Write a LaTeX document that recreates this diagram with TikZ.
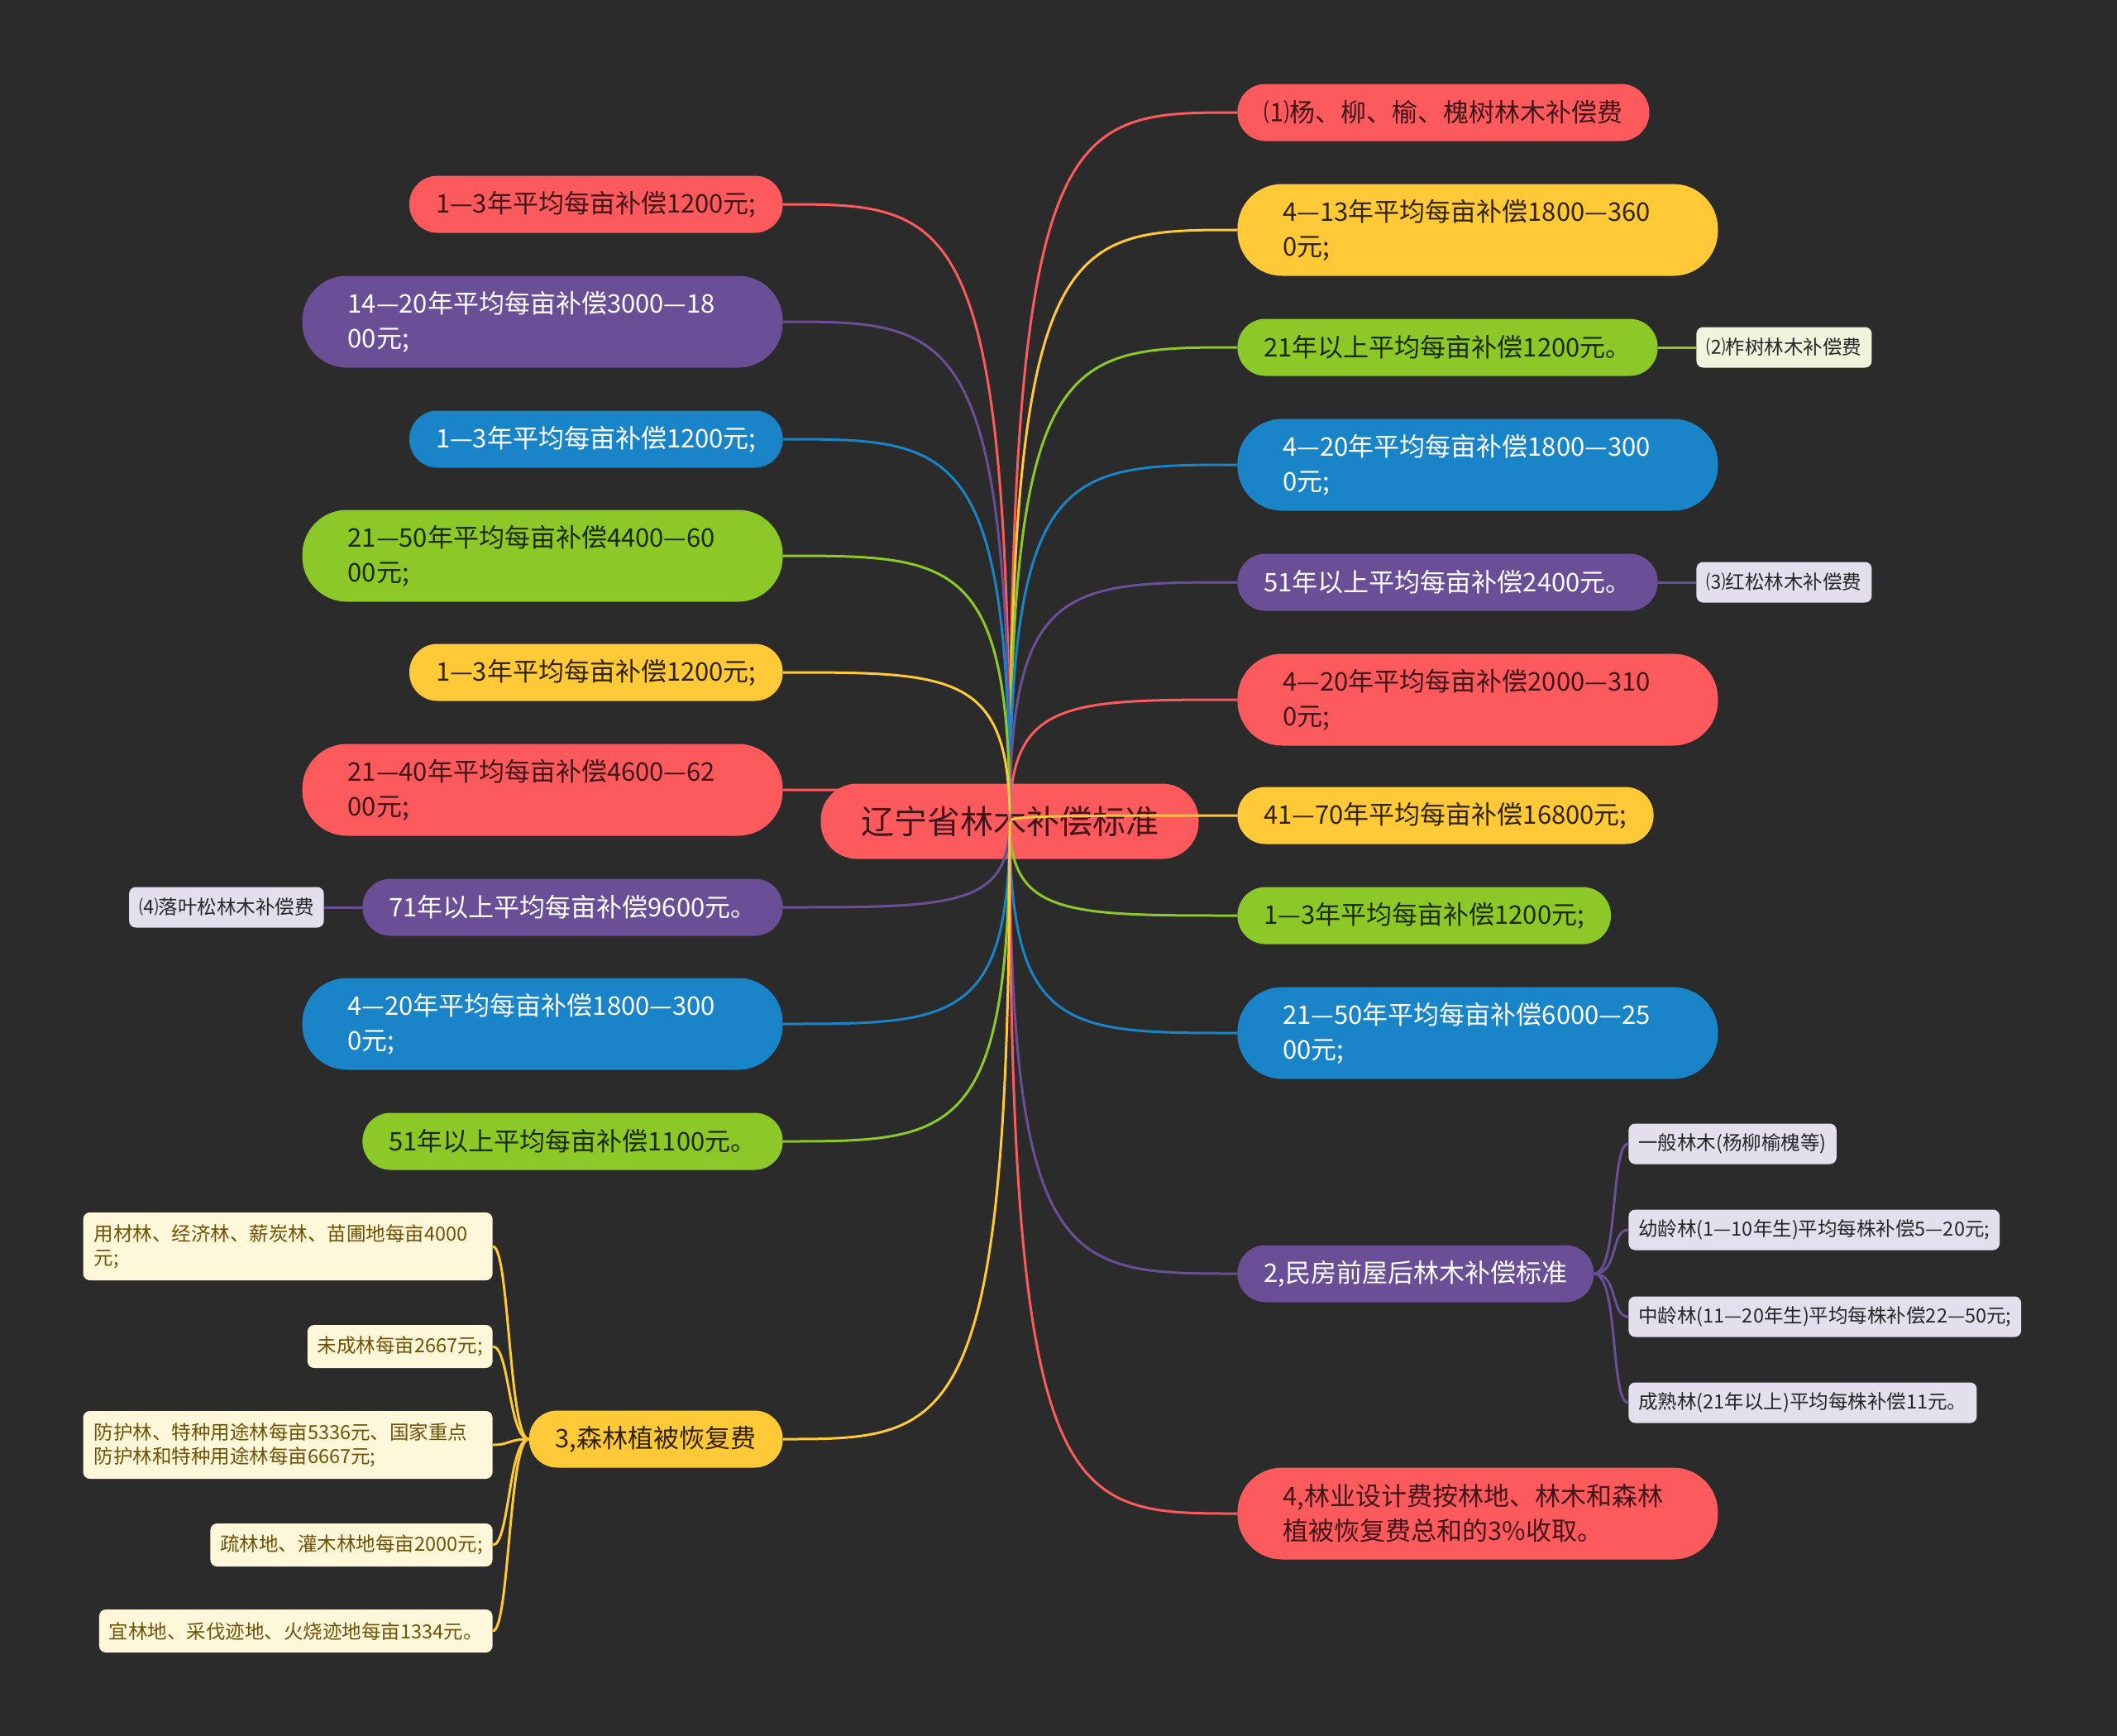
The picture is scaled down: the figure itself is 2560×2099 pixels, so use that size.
\documentclass[tikz,border=0pt]{standalone}
\usepackage{fontspec}
\setmainfont{Noto Sans CJK SC}
\usepackage{tikz}
\usetikzlibrary{calc,positioning}

\definecolor{bgc}{RGB}{43,43,43}
\definecolor{cred}{RGB}{253,90,94}
\definecolor{cyel}{RGB}{255,201,56}
\definecolor{cgrn}{RGB}{140,201,40}
\definecolor{cblu}{RGB}{26,132,200}
\definecolor{cpur}{RGB}{106,79,150}
\definecolor{tred}{RGB}{64,22,26}
\definecolor{tyel}{RGB}{48,36,0}
\definecolor{tgrn}{RGB}{28,42,0}
\definecolor{lgrn}{RGB}{238,245,220}
\definecolor{llav}{RGB}{228,223,236}
\definecolor{lcream}{RGB}{255,247,218}
\definecolor{tcream}{RGB}{110,82,6}

\begin{document}
\begin{tikzpicture}[
    x=0.5pt, y=-0.5pt,
    main_node/.style={
        rectangle,
        rounded corners=17pt,
        minimum height=34.5pt,
        inner xsep=16pt,
        inner ysep=0pt,
        font=\fontsize{15.5pt}{21pt}\selectfont
    },
    two_line/.style={
        rounded corners=27pt,
        minimum height=55.5pt,
        text width=235.5pt,
        inner xsep=27.5pt,
        align=left
    },
    red_node/.style={main_node, fill=cred, text=tred},
    yel_node/.style={main_node, fill=cyel, text=tyel},
    grn_node/.style={main_node, fill=cgrn, text=tgrn},
    blu_node/.style={main_node, fill=cblu, text=white},
    pur_node/.style={main_node, fill=cpur, text=white},
    leaf_node/.style={
        rectangle,
        rounded corners=4pt,
        minimum height=24.5pt,
        inner xsep=6pt,
        inner ysep=0pt,
        font=\fontsize{11.75pt}{14.5pt}\selectfont
    },
    lav_leaf/.style={leaf_node, fill=llav, text=black!85},
    grn_leaf/.style={leaf_node, fill=lgrn, text=black!85},
    cream_leaf/.style={leaf_node, fill=lcream, text=tcream, align=left},
    cream_two/.style={cream_leaf, minimum height=41pt, text width=234.5pt, inner xsep=6.5pt},
    root_node/.style={
        rectangle,
        rounded corners=22pt,
        fill=cred,
        text=tred,
        minimum width=228.5pt,
        minimum height=45.5pt,
        font=\fontsize{20pt}{24pt}\selectfont
    },
    branch_edge/.style={
        line width=1.5pt,
        to path={.. controls (\tikztostart |- \tikztotarget) and ($(\tikztostart |- \tikztotarget)!0.25!(\tikztotarget)$) .. (\tikztotarget)}
    },
    leaf_edge/.style={line width=1.5pt},
    bracket_r/.style={
        leaf_edge,
        to path={.. controls ($(\tikztostart)+(30,0)$) and ($(\tikztotarget)+(-22,0)$) .. (\tikztotarget)}
    },
    bracket_l/.style={
        leaf_edge,
        to path={.. controls ($(\tikztostart)+(-24,0)$) and ($(\tikztotarget)+(20,0)$) .. (\tikztotarget)}
    }
]

    % 背景
    \fill[bgc] (0,0) rectangle (2560,2099);

    % ====== 中心主题 ======
    \node[root_node] (root) at (1221,993) {辽宁省林木补偿标准};

    % ====== 右侧分支 ======
    \node[red_node, anchor=west] (r1) at (1496,136) {⑴杨、柳、榆、槐树林木补偿费};
    \node[yel_node, two_line, anchor=west] (r2) at (1496,278) {4—13年平均每亩补偿1800—360\\0元;};
    \node[grn_node, anchor=west] (r3) at (1496,420) {21年以上平均每亩补偿1200元。};
    \node[blu_node, two_line, anchor=west] (r4) at (1496,562) {4—20年平均每亩补偿1800—300\\0元;};
    \node[pur_node, anchor=west] (r5) at (1496,704) {51年以上平均每亩补偿2400元。};
    \node[red_node, two_line, anchor=west] (r6) at (1496,846) {4—20年平均每亩补偿2000—310\\0元;};
    \node[yel_node, anchor=west] (r7) at (1496,986) {41—70年平均每亩补偿16800元;};
    \node[grn_node, anchor=west] (r8) at (1496,1107) {1—3年平均每亩补偿1200元;};
    \node[blu_node, two_line, anchor=west] (r9) at (1496,1249) {21—50年平均每亩补偿6000—25\\00元;};
    \node[pur_node, anchor=west] (r10) at (1496,1540) {2,民房前屋后林木补偿标准};
    \node[red_node, two_line, anchor=west] (r11) at (1496,1830) {4,林业设计费按林地、林木和森林\\植被恢复费总和的3\%收取。};

    % 右侧子节点
    \node[grn_leaf, anchor=west] (c2) at (2051,420) {⑵柞树林木补偿费};
    \node[lav_leaf, anchor=west] (c3) at (2051,704) {⑶红松林木补偿费};
    \node[lav_leaf, anchor=west] (p1) at (1969,1383) {一般林木(杨柳榆槐等)};
    \node[lav_leaf, anchor=west] (p2) at (1969,1487) {幼龄林(1—10年生)平均每株补偿5—20元;};
    \node[lav_leaf, anchor=west] (p3) at (1969,1592) {中龄林(11—20年生)平均每株补偿22—50元;};
    \node[lav_leaf, anchor=west] (p4) at (1969,1696) {成熟林(21年以上)平均每株补偿11元。};

    % ====== 左侧分支 ======
    \node[red_node, anchor=east] (l1) at (947,247) {1—3年平均每亩补偿1200元;};
    \node[pur_node, two_line, anchor=east] (l2) at (947,389) {14—20年平均每亩补偿3000—18\\00元;};
    \node[blu_node, anchor=east] (l3) at (947,531) {1—3年平均每亩补偿1200元;};
    \node[grn_node, two_line, anchor=east] (l4) at (947,672) {21—50年平均每亩补偿4400—60\\00元;};
    \node[yel_node, anchor=east] (l5) at (947,813) {1—3年平均每亩补偿1200元;};
    \node[red_node, two_line, anchor=east] (l6) at (947,955) {21—40年平均每亩补偿4600—62\\00元;};
    \node[pur_node, anchor=east] (l7) at (947,1097) {71年以上平均每亩补偿9600元。};
    \node[blu_node, two_line, anchor=east] (l8) at (947,1238) {4—20年平均每亩补偿1800—300\\0元;};
    \node[grn_node, anchor=east] (l9) at (947,1380) {51年以上平均每亩补偿1100元。};
    \node[yel_node, anchor=east] (l10) at (947,1740) {3,森林植被恢复费};

    % 左侧子节点
    \node[lav_leaf, anchor=east] (c4) at (392,1097) {⑷落叶松林木补偿费};
    \node[cream_two, anchor=east] (y1) at (596,1507) {用材林、经济林、薪炭林、苗圃地每亩4000\\元;};
    \node[cream_leaf, minimum height=26pt, anchor=east] (y2) at (596,1628) {未成林每亩2667元;};
    \node[cream_two, anchor=east] (y3) at (596,1747) {防护林、特种用途林每亩5336元、国家重点\\防护林和特种用途林每亩6667元;};
    \node[cream_leaf, minimum height=26pt, anchor=east] (y4) at (596,1868) {疏林地、灌木林地每亩2000元;};
    \node[cream_leaf, minimum height=26pt, anchor=east] (y5) at (596,1972) {宜林地、采伐迹地、火烧迹地每亩1334元。};

    % ====== 连线: 中心 -> 右侧 ======
    \draw[branch_edge, cred] (root.center) to (r1.west);
    \draw[branch_edge, cyel] (root.center) to (r2.west);
    \draw[branch_edge, cgrn] (root.center) to (r3.west);
    \draw[branch_edge, cblu] (root.center) to (r4.west);
    \draw[branch_edge, cpur] (root.center) to (r5.west);
    \draw[branch_edge, cred] (root.center) to (r6.west);
    \draw[branch_edge, cyel] (root.center) to (r7.west);
    \draw[branch_edge, cgrn] (root.center) to (r8.west);
    \draw[branch_edge, cblu] (root.center) to (r9.west);
    \draw[branch_edge, cpur] (root.center) to (r10.west);
    \draw[branch_edge, cred] (root.center) to (r11.west);

    % ====== 连线: 中心 -> 左侧 ======
    \draw[branch_edge, cred] (root.center) to (l1.east);
    \draw[branch_edge, cpur] (root.center) to (l2.east);
    \draw[branch_edge, cblu] (root.center) to (l3.east);
    \draw[branch_edge, cgrn] (root.center) to (l4.east);
    \draw[branch_edge, cyel] (root.center) to (l5.east);
    \draw[branch_edge, cred] (root.center) to (l6.east);
    \draw[branch_edge, cpur] (root.center) to (l7.east);
    \draw[branch_edge, cblu] (root.center) to (l8.east);
    \draw[branch_edge, cgrn] (root.center) to (l9.east);
    \draw[branch_edge, cyel] (root.center) to (l10.east);

    % ====== 子节点连线 ======
    \draw[leaf_edge, cgrn] (r3.east) -- (c2.west);
    \draw[leaf_edge, cpur] (r5.east) -- (c3.west);
    \draw[leaf_edge, cpur] (l7.west) -- (c4.east);
    \draw[bracket_r, cpur] (r10.east) to (p1.west);
    \draw[bracket_r, cpur] (r10.east) to (p2.west);
    \draw[bracket_r, cpur] (r10.east) to (p3.west);
    \draw[bracket_r, cpur] (r10.east) to (p4.west);
    \draw[bracket_l, cyel] (l10.west) to (y1.east);
    \draw[bracket_l, cyel] (l10.west) to (y2.east);
    \draw[bracket_l, cyel] (l10.west) to (y3.east);
    \draw[bracket_l, cyel] (l10.west) to (y4.east);
    \draw[bracket_l, cyel] (l10.west) to (y5.east);

\end{tikzpicture}
\end{document}
